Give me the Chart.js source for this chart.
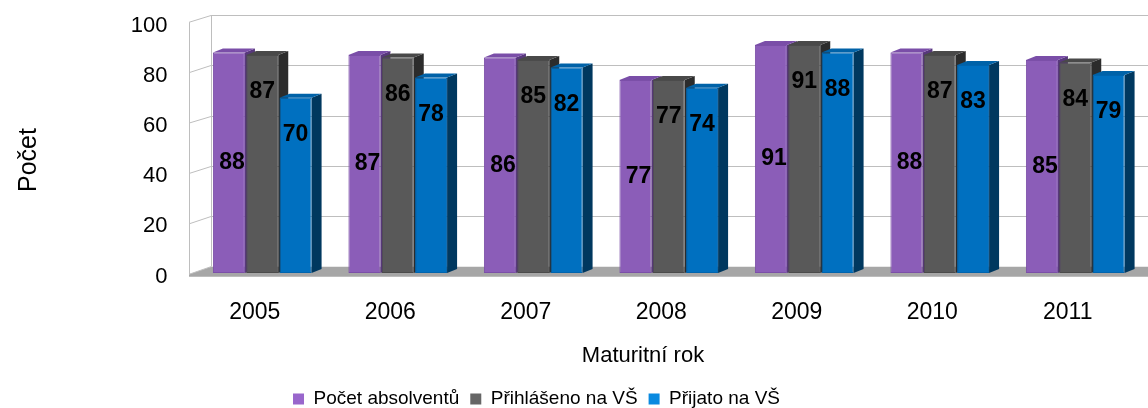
<!DOCTYPE html>
<html>
<head>
<meta charset="utf-8">
<script src="https://cdn.jsdelivr.net/npm/chart.js@4"></script>
<style>
html,body{margin:0;padding:0;background:#fff;}
#wrap{width:1148px;height:408px;position:relative;}
</style>
</head>
<body>
<div id="wrap"><canvas id="c" width="1148" height="408"></canvas></div>
<script>
// ---- data ----
const categories = ['2005', '2006', '2007', '2008', '2009', '2010', '2011'];
const absolventi = [88, 87, 86, 77, 91, 88, 85];
const prihlaseno = [87, 86, 85, 77, 91, 87, 84];
const prijato = [70, 78, 82, 74, 88, 83, 79];
const seriesNames = ['Počet absolventů', 'Přihlášeno na VŠ', 'Přijato na VŠ'];
const yTicks = [0, 20, 40, 60, 80, 100];
const yTitle = 'Počet';
const xTitle = 'Maturitní rok';

// ---- styles ----
const frontCol = ['#8B5DB8', '#595959', '#0070C0'];
const edgeCol = ['#7B4FA8', '#4B4B4B', '#0064AE'];
const sideCol = ['#58387C', '#2C2C2C', '#00385F'];
const topCol = ['#7A4EA8', '#494949', '#0062A8'];
const legendCol = ['#9966CC', '#666666', '#0A8AE0'];
const FONT = "'Liberation Sans', Arial, sans-serif";
const DX = 10, DY = -4;

const scene3d = {
  id: 'scene3d',
  beforeDraw(chart) {
    const lg = chart.legend;
    if (lg && lg.lineWidths) {
      const W = lg.lineWidths[0];
      const pad = lg.options.labels.padding;
      const cur = (lg.left + pad + lg.right - W) / 2 + W / 2;
      const d = 542 - cur;
      lg.left += d; lg.right += d;
    }
  },
  beforeDatasetsDraw(chart) {
    const ctx = chart.ctx, ca = chart.chartArea, ys = chart.scales.y;
    const fx = ca.left - 5.5, bx = ca.left + 16.5, rx = chart.width + 30;
    const frontY = v => ys.getPixelForValue(v) + 1.3 - 0.015 * v;
    const backY = v => ys.getPixelForValue(v) - 6.3 - 0.012 * v;
    ctx.save();
    // floor
    const f0 = frontY(0), b0 = backY(0);
    ctx.fillStyle = '#A6A6A6';
    ctx.beginPath();
    ctx.moveTo(fx, f0 + 2.4);
    ctx.lineTo(fx, f0);
    ctx.lineTo(bx, b0);
    ctx.lineTo(rx, b0);
    ctx.lineTo(rx, f0 + 2.4);
    ctx.closePath();
    ctx.fill();
    // walls / gridlines
    ctx.strokeStyle = '#BEBEBE';
    ctx.lineWidth = 1;
    ctx.beginPath();
    yTicks.forEach(v => {
      if (v === 0) return;
      const by = Math.round(backY(v)) + 0.5;
      ctx.moveTo(bx, by); ctx.lineTo(rx, by);
      ctx.moveTo(fx, frontY(v)); ctx.lineTo(bx, by);
    });
    ctx.moveTo(Math.round(fx) + 0.5, frontY(100)); ctx.lineTo(Math.round(fx) + 0.5, f0);
    ctx.moveTo(Math.round(bx) + 0.5, backY(100)); ctx.lineTo(Math.round(bx) + 0.5, b0);
    ctx.moveTo(fx, f0); ctx.lineTo(bx, b0);
    ctx.stroke();
    // 3D faces of bars
    chart.data.datasets.forEach((ds, i) => {
      const meta = chart.getDatasetMeta(i);
      meta.data.forEach(bar => {
        const x0 = bar.x - bar.width / 2, x1 = bar.x + bar.width / 2;
        const yt = bar.y, yb = bar.base;
        ctx.fillStyle = sideCol[i];
        ctx.beginPath();
        ctx.moveTo(x1, yt); ctx.lineTo(x1 + DX, yt + DY); ctx.lineTo(x1 + DX, yb + DY); ctx.lineTo(x1, yb);
        ctx.closePath(); ctx.fill();
        ctx.fillStyle = topCol[i];
        ctx.beginPath();
        ctx.moveTo(x0, yt); ctx.lineTo(x0 + DX, yt + DY); ctx.lineTo(x1 + DX, yt + DY); ctx.lineTo(x1, yt);
        ctx.closePath(); ctx.fill();
      });
    });
    ctx.restore();
  },
  afterDatasetsDraw(chart) {
    const ctx = chart.ctx;
    ctx.save();
    ctx.font = 'bold 23px ' + FONT;
    ctx.fillStyle = '#000';
    ctx.textAlign = 'center';
    ctx.textBaseline = 'middle';
    chart.data.datasets.forEach((ds, i) => {
      const meta = chart.getDatasetMeta(i);
      meta.data.forEach((bar, j) => {
        let x = bar.x, y;
        if (i === 0) { x += 3; y = (bar.y + bar.base) / 2; }
        else { y = bar.y + 37; }
        ctx.fillText(String(ds.data[j]), x, y);
      });
    });
    // axis titles
    ctx.font = '22px ' + FONT;
    ctx.fillText(xTitle, 643, 356);
    ctx.translate(29, 160);
    ctx.rotate(-Math.PI / 2);
    ctx.font = '25px ' + FONT;
    ctx.fillText(yTitle, 0, 0);
    ctx.restore();
  }
};

const chart = new Chart(document.getElementById('c'), {
  type: 'bar',
  data: {
    labels: categories,
    datasets: [
      { label: seriesNames[0], data: absolventi, backgroundColor: frontCol[0], borderColor: edgeCol[0] },
      { label: seriesNames[1], data: prihlaseno, backgroundColor: frontCol[1], borderColor: edgeCol[1] },
      { label: seriesNames[2], data: prijato, backgroundColor: frontCol[2], borderColor: edgeCol[2] }
    ]
  },
  options: {
    responsive: false,
    animation: false,
    events: [],
    layout: { padding: { top: 22.5, left: 0, right: 5, bottom: -10.5 } },
    datasets: { bar: { categoryPercentage: 0.738, barPercentage: 0.96, borderWidth: 1, borderSkipped: false } },
    scales: {
      x: {
        grid: { display: false, drawTicks: false },
        border: { display: false },
        ticks: { font: { family: FONT, size: 23 }, color: '#000', padding: 26, labelOffset: -7.5, maxRotation: 0, autoSkip: false },
        title: { display: false },
        afterFit(s) { s.height = 105.5; }
      },
      y: {
        min: 0, max: 100,
        afterBuildTicks(s) { s.ticks = yTicks.map(v => ({ value: v })); },
        grid: { display: false, drawTicks: false },
        border: { display: false },
        ticks: { font: { family: FONT, size: 22 }, color: '#000', padding: 27, labelOffset: 3.5 },
        title: { display: false },
        afterFit(s) { s.width = 194.5; s.paddingTop = 0; s.paddingBottom = 0; }
      }
    },
    plugins: {
      tooltip: { enabled: false },
      legend: {
        position: 'bottom',
        labels: {
          font: { family: FONT, size: 19 },
          color: '#000',
          boxWidth: 11, boxHeight: 11,
          padding: 11,
          generateLabels(chart) {
            return chart.data.datasets.map((ds, i) => ({
              text: ds.label, fillStyle: legendCol[i], strokeStyle: legendCol[i], lineWidth: 0,
              hidden: false, datasetIndex: i, fontColor: '#000'
            }));
          }
        }
      }
    }
  },
  plugins: [scene3d]
});
</script>
</body>
</html>
